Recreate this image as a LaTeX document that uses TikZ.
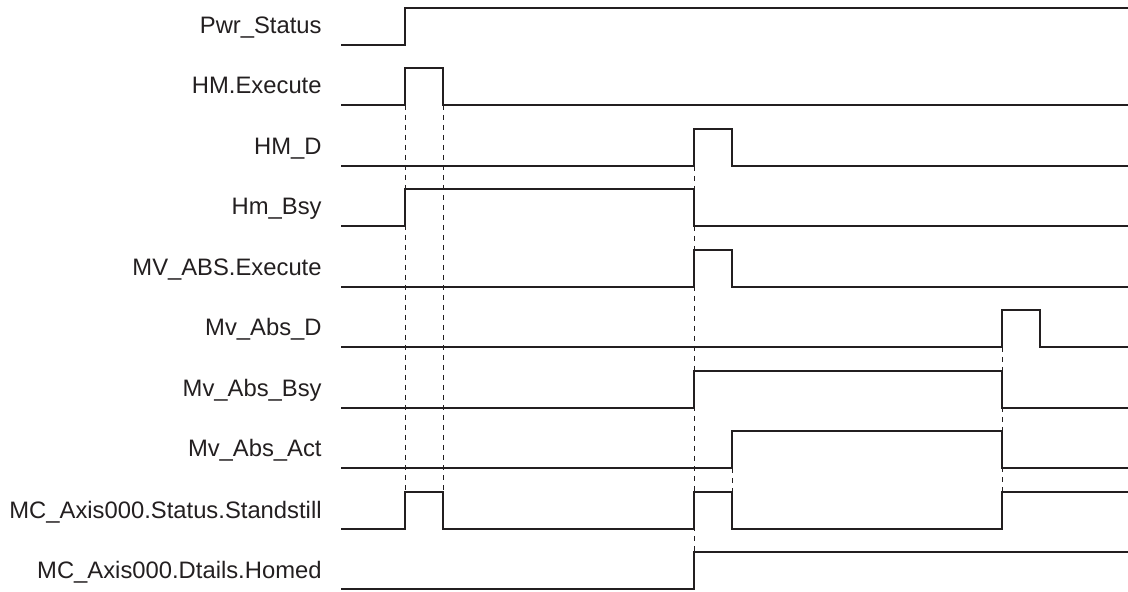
\documentclass[tikz,border=0pt]{standalone}
\usepackage{fontspec}
\setmainfont{Liberation Sans}
\usepackage{tikz}
\usetikzlibrary{positioning}
\definecolor{inkgray}{RGB}{35,31,32}

\begin{document}
\begin{tikzpicture}[
  x=0.5pt, y=-0.5pt,
  lbl/.style={anchor=base east, inner sep=0pt, text=inkgray, font=\fontsize{11.9}{14}\selectfont},
  sig/.style={draw=inkgray, line width=1.2pt, line join=miter},
  guide/.style={draw=inkgray, line width=0.5pt, dash pattern=on 2.5pt off 2.5pt}
]
  \useasboundingbox (0,0) rectangle (1128,592);

  % signal names
  \node[lbl] (pwr)   at (322, 34)  {Pwr\_Status};
  \node[lbl] (hmex)  at (322, 94)  {HM.Execute};
  \node[lbl] (hmd)   at (322, 155) {HM\_D};
  \node[lbl] (hmbsy) at (322, 215) {Hm\_Bsy};
  \node[lbl] (mvex)  at (322, 276) {MV\_ABS.Execute};
  \node[lbl] (mvd)   at (322, 336) {Mv\_Abs\_D};
  \node[lbl] (mvbsy) at (322, 397) {Mv\_Abs\_Bsy};
  \node[lbl] (mvact) at (322, 457) {Mv\_Abs\_Act};
  \node[lbl] (stand) at (322, 518) {MC\_Axis000.Status.Standstill};
  \node[lbl] (homed) at (322, 578) {MC\_Axis000.Dtails.Homed};

  % timing guides
  \draw[guide] (405,105) -- (405,492);
  \draw[guide] (443,105) -- (443,492);
  \draw[guide] (694,166) -- (694,552);
  \draw[guide] (732,468) -- (732,492);
  \draw[guide] (1002,347) -- (1002,492);

  % waveforms
  \draw[sig] (341,45) -- (405,45) -- (405,8) -- (1128,8);
  \draw[sig] (341,105) -- (405,105) -- (405,68) -- (443,68) -- (443,105) -- (1128,105);
  \draw[sig] (341,166) -- (694,166) -- (694,129) -- (732,129) -- (732,166) -- (1128,166);
  \draw[sig] (341,226) -- (405,226) -- (405,189) -- (694,189) -- (694,226) -- (1128,226);
  \draw[sig] (341,287) -- (694,287) -- (694,250) -- (732,250) -- (732,287) -- (1128,287);
  \draw[sig] (341,347) -- (1002,347) -- (1002,310) -- (1040,310) -- (1040,347) -- (1128,347);
  \draw[sig] (341,408) -- (694,408) -- (694,371) -- (1002,371) -- (1002,408) -- (1128,408);
  \draw[sig] (341,468) -- (732,468) -- (732,431) -- (1002,431) -- (1002,468) -- (1128,468);
  \draw[sig] (341,529) -- (405,529) -- (405,492) -- (443,492) -- (443,529) -- (694,529)
             -- (694,492) -- (732,492) -- (732,529) -- (1002,529) -- (1002,492) -- (1128,492);
  \draw[sig] (341,589) -- (694,589) -- (694,552) -- (1128,552);
\end{tikzpicture}
\end{document}
